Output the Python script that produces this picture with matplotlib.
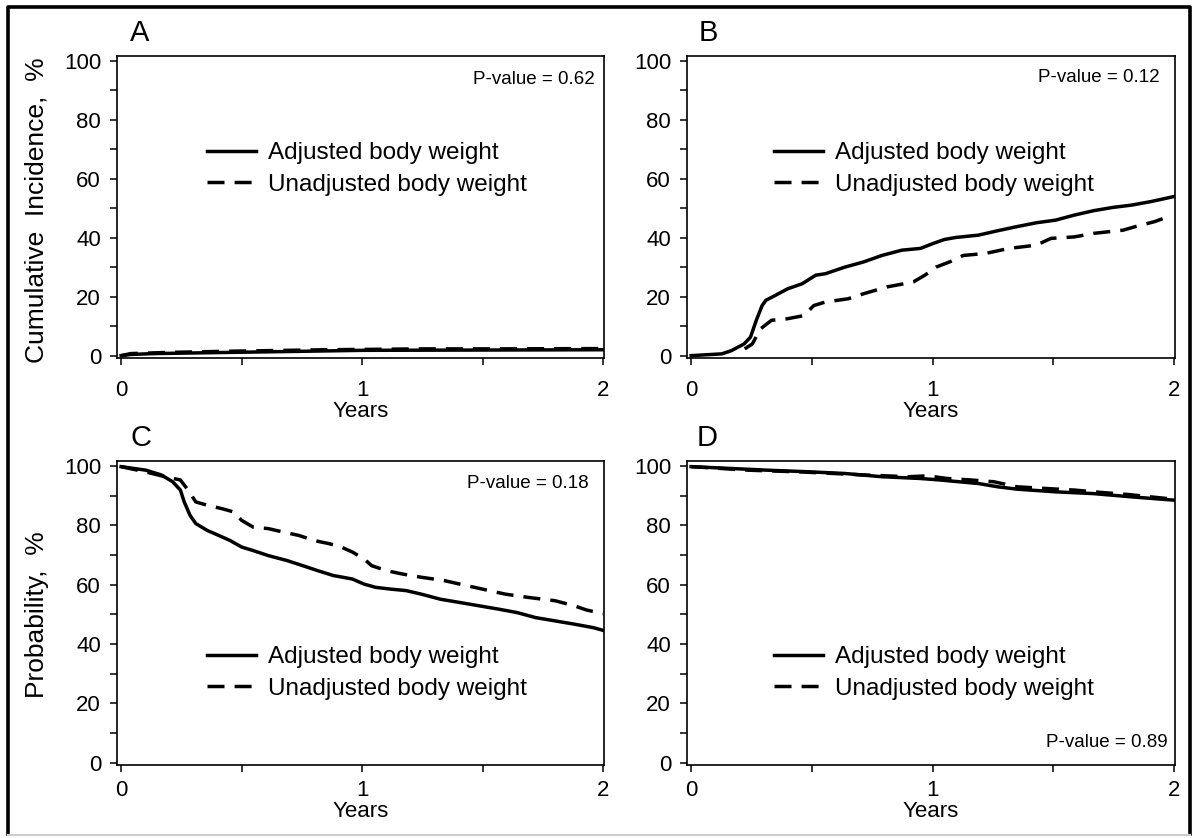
import numpy as np
import matplotlib
matplotlib.use("Agg")
import matplotlib.pyplot as plt
from matplotlib.ticker import MultipleLocator

plt.rcParams['font.family'] = ['Liberation Sans', 'DejaVu Sans']

# ---- data (years, %) ----
# A: cumulative incidence, near zero
a_adj_x = [0.0, 0.04, 0.135, 0.45, 0.77, 1.0, 1.5, 2.0]
a_adj_y = [0.0, 0.4, 0.7, 1.1, 1.5, 1.8, 1.9, 2.0]
a_una_x = [0.0, 0.04, 0.2, 0.45, 0.69, 0.85, 1.25, 1.6, 2.0]
a_una_y = [0.0, 0.7, 1.1, 1.5, 1.8, 2.0, 2.3, 2.3, 2.4]

# B: cumulative incidence
b_adj_x = [0.0, 0.127, 0.167, 0.22, 0.246, 0.27, 0.294, 0.31, 0.35, 0.40, 0.46,
           0.516, 0.556, 0.635, 0.714, 0.79, 0.873, 0.95, 1.0, 1.048, 1.095,
           1.19, 1.27, 1.35, 1.43, 1.51, 1.587, 1.667, 1.746, 1.825, 1.905, 2.0]
b_adj_y = [0.0, 0.6, 1.7, 4.0, 6.3, 12.0, 17.0, 18.8, 20.5, 22.7, 24.4,
           27.3, 27.8, 30.0, 31.8, 34.0, 35.8, 36.4, 38.0, 39.4, 40.1,
           40.9, 42.4, 43.8, 45.1, 46.0, 47.7, 49.2, 50.3, 51.1, 52.3, 54.0]
b_una_x = [0.222, 0.254, 0.286, 0.333, 0.397, 0.468, 0.508, 0.556, 0.65, 0.714,
           0.81, 0.92, 0.968, 1.016, 1.07, 1.127, 1.22, 1.317, 1.43, 1.49,
           1.587, 1.667, 1.79, 1.84, 1.92, 1.99]
b_una_y = [2.3, 4.0, 9.0, 12.0, 12.5, 13.6, 17.0, 18.2, 19.3, 21.0,
           23.3, 25.0, 27.3, 30.1, 31.8, 34.0, 34.7, 36.4, 37.5, 39.8,
           40.3, 41.5, 42.6, 43.8, 45.5, 47.6]

# C: probability
c_adj_x = [0.0, 0.103, 0.167, 0.214, 0.246, 0.262, 0.286, 0.31, 0.357, 0.405,
           0.452, 0.5, 0.548, 0.611, 0.69, 0.754, 0.817, 0.88, 0.96, 1.008,
           1.056, 1.119, 1.183, 1.246, 1.325, 1.405, 1.484, 1.563, 1.643, 1.72,
           1.8, 1.88, 1.96, 2.0]
c_adj_y = [99.8, 98.6, 97.0, 94.7, 91.9, 87.9, 83.4, 80.6, 78.3, 76.6,
           74.9, 72.7, 71.5, 69.8, 68.1, 66.4, 64.7, 63.1, 61.9, 60.2,
           59.1, 58.5, 58.0, 56.8, 55.1, 54.0, 52.9, 51.8, 50.6, 48.9,
           47.8, 46.7, 45.5, 44.6]
c_una_x = [0.0, 0.103, 0.183, 0.246, 0.278, 0.31, 0.357, 0.42, 0.468, 0.5,
           0.548, 0.611, 0.675, 0.738, 0.8, 0.865, 0.913, 0.96, 1.008, 1.04,
           1.103, 1.167, 1.246, 1.34, 1.405, 1.5, 1.595, 1.69, 1.8, 1.88,
           1.93, 2.0]
c_una_y = [99.8, 98.0, 96.4, 95.3, 91.9, 87.9, 86.8, 85.6, 84.5, 81.7,
           79.4, 78.9, 77.7, 76.6, 74.9, 73.8, 72.7, 71.0, 68.7, 66.4,
           64.7, 63.6, 62.5, 61.4, 60.2, 58.5, 56.8, 55.7, 54.6, 52.9,
           51.5, 50.2]

# D: probability
d_adj_x = [0.0, 0.16, 0.317, 0.476, 0.635, 0.79, 0.95, 1.03, 1.19, 1.27,
           1.35, 1.51, 1.667, 1.825, 2.0]
d_adj_y = [99.8, 99.2, 98.6, 98.1, 97.5, 96.4, 95.8, 95.3, 94.1, 93.0,
           92.2, 91.3, 90.7, 89.6, 88.5]
d_una_x = [0.0, 0.238, 0.46, 0.714, 0.9, 0.98, 1.06, 1.16, 1.254, 1.35,
           1.476, 1.587, 1.698, 1.81, 1.905, 2.0]
d_una_y = [99.8, 98.6, 98.0, 97.0, 96.4, 96.7, 95.8, 95.3, 94.7, 93.0,
           92.4, 91.9, 91.1, 90.4, 89.6, 88.8]

labels = ["Adjusted body weight", "Unadjusted body weight"]
panels = [
    ("A", a_adj_x, a_adj_y, a_una_x, a_una_y, "P-value = 0.62"),
    ("B", b_adj_x, b_adj_y, b_una_x, b_una_y, "P-value = 0.12"),
    ("C", c_adj_x, c_adj_y, c_una_x, c_una_y, "P-value = 0.18"),
    ("D", d_adj_x, d_adj_y, d_una_x, d_una_y, "P-value = 0.89"),
]

W, H = 1194, 838
fig = plt.figure(figsize=(W / 100, H / 100), dpi=100)

def px(x, y):
    return x / W, 1 - y / H

# axes boxes in pixels: left, right, top, bottom
boxes = [(117, 604, 56, 358), (687, 1175, 56, 358),
         (117, 604, 461, 765), (687, 1175, 461, 765)]
xpads = [10.5, 10.5, 5.5, 5.5]
letter_pos = [(130, 33), (699, 33), (130, 438), (697, 438)]
pval_pos = [(595, 80), (1160, 77), (589, 483), (1168, 742)]
leg_pos = [(207, 169), (774, 169), (207, 673), (774, 673)]

dash = (0, (4.9, 2.9))
lw = 2.5

for i, (let, ax_, ay_, ux_, uy_, ptxt) in enumerate(panels):
    l, r, t, b = boxes[i]
    ax = fig.add_axes([l / W, 1 - b / H, (r - l) / W, (b - t) / H])
    ax.plot(ax_, ay_, color='black', lw=lw, label=labels[0])
    ax.plot(ux_, uy_, color='black', lw=lw, linestyle=dash, label=labels[1])
    ax.set_xlim(-0.017, 2.004)
    ax.set_ylim(-0.8, 101.7)
    ax.xaxis.set_major_locator(MultipleLocator(1))
    ax.xaxis.set_minor_locator(MultipleLocator(0.5))
    ax.yaxis.set_major_locator(MultipleLocator(20))
    ax.yaxis.set_minor_locator(MultipleLocator(10))
    ax.tick_params(which='both', direction='out', length=5, width=1.1,
                   top=False, right=False)
    ax.tick_params(axis='y', labelsize=16, pad=6.5)
    ax.tick_params(axis='x', labelsize=16, pad=xpads[i])
    for s in ax.spines.values():
        s.set_linewidth(1.2)
    ax.set_xlabel("Years", fontsize=16, labelpad=0)

    tx, ty = pval_pos[i]
    ax.text((tx - l) / (r - l), (b - ty) / (b - t), ptxt, transform=ax.transAxes,
            ha='right', va='center', fontsize=13.5)

    lx, ly = leg_pos[i]
    ax.legend(loc='center left', bbox_to_anchor=px(lx, ly), bbox_transform=fig.transFigure,
              frameon=False, fontsize=17.5, handlelength=2.0, handletextpad=0.5,
              labelspacing=0.4, borderpad=0, borderaxespad=0)

    fx, fy = letter_pos[i]
    fig.text(*px(fx, fy), let, fontsize=21, ha='left', va='center')

fig.text(*px(37, 210), "Cumulative  Incidence,  %", rotation=90, fontsize=19,
         ha='center', va='center')
fig.text(*px(37, 615), "Probability,  %", rotation=90, fontsize=19,
         ha='center', va='center')

# outer frame
fig.add_artist(plt.Line2D([8 / W, 8 / W, 1190 / W, 1190 / W],
                          [1 - 834 / H, 1 - 7 / H, 1 - 7 / H, 1 - 834 / H],
                          transform=fig.transFigure, color='black', lw=2.6))
fig.add_artist(plt.Line2D([8 / W, 1190 / W], [1 - 835 / H, 1 - 835 / H],
                          transform=fig.transFigure, color='#cccccc', lw=1.5))

fig.savefig("out.png", dpi=100)
